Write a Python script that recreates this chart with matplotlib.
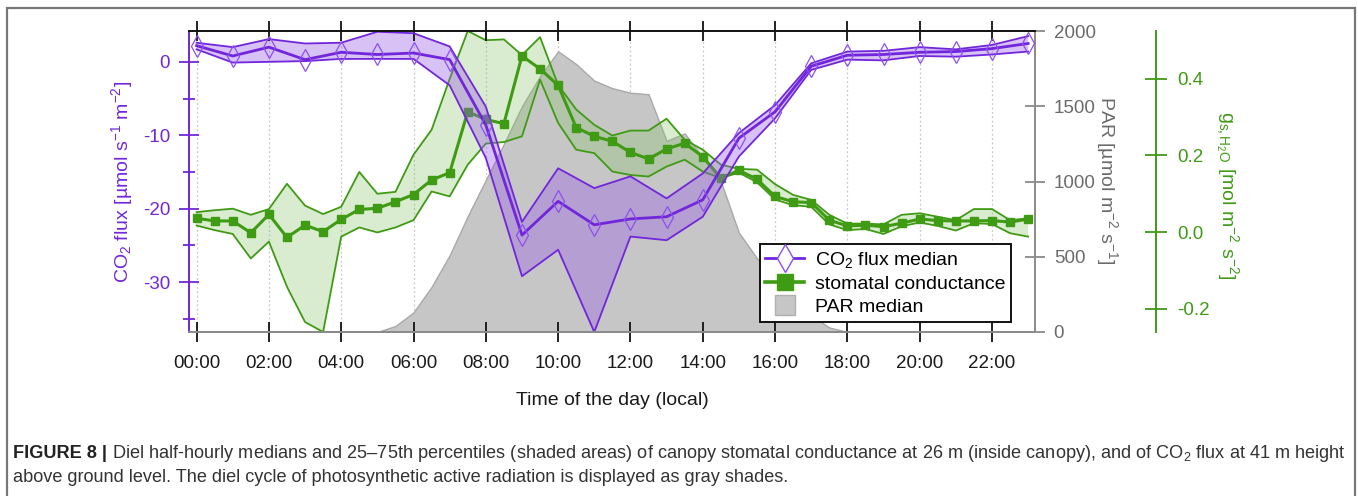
import numpy as np
import matplotlib
matplotlib.use("Agg")
import matplotlib.pyplot as plt
from matplotlib.lines import Line2D
from matplotlib.patches import Rectangle
from matplotlib.ticker import MultipleLocator, FormatStrFormatter

plt.rcParams["font.family"] = ["Liberation Sans", "DejaVu Sans"]
plt.rcParams["mathtext.fontset"] = "custom"
plt.rcParams["mathtext.rm"] = "Liberation Sans"
plt.rcParams["mathtext.it"] = "Liberation Sans:italic"
plt.rcParams["mathtext.bf"] = "Liberation Sans:bold"
plt.rcParams["axes.unicode_minus"] = False

# hourly CO2 flux: median and 25-75th percentiles
co2_hours = list(range(24))
co2_median = [2.2, 0.8, 2.0, 0.3, 1.3, 1.0, 1.2, 0.3, -8.6, -23.6, -19.0, -22.2,
              -21.4, -21.1, -18.8, -10.4, -6.8, -0.6, 0.9, 1.0, 1.3, 1.4, 1.8, 2.5]
co2_upper = [2.6, 2.0, 3.1, 2.5, 2.6, 4.1, 3.9, 2.1, -6.1, -21.8, -14.5, -17.2,
             -15.6, -18.6, -15.2, -9.7, -5.9, -0.2, 1.4, 1.5, 2.0, 1.7, 2.3, 3.5]
co2_lower = [1.7, -0.1, 0.0, 0.1, 0.4, 0.4, 0.4, -3.2, -13.1, -29.2, -25.6, -36.8,
             -23.8, -24.3, -21.1, -12.9, -7.7, -1.1, 0.3, 0.2, 0.8, 0.7, 1.0, 1.4]

# half-hourly stomatal conductance (mol m-2 s-1) and PAR
half_hours = [h / 2 for h in range(47)]
gs_median = [0.036, 0.029, 0.029, -0.002, 0.046, -0.014, 0.018, 0.001, 0.033, 0.059,
             0.062, 0.079, 0.098, 0.136, 0.155, 0.314, 0.294, 0.283, 0.460, 0.426,
             0.383, 0.273, 0.250, 0.237, 0.208, 0.191, 0.217, 0.232, 0.197, 0.141,
             0.161, 0.138, 0.093, 0.079, 0.077, 0.031, 0.016, 0.018, 0.014, 0.023,
             0.034, 0.030, 0.029, 0.029, 0.030, 0.026, 0.034]
gs_upper = [0.052, 0.057, 0.061, 0.045, 0.060, 0.126, 0.069, 0.047, 0.066, 0.157,
            0.100, 0.105, 0.202, 0.267, 0.400, 0.525, 0.501, 0.503, 0.462, 0.509,
            0.384, 0.320, 0.280, 0.252, 0.265, 0.265, 0.296, 0.241, 0.215, 0.176,
            0.165, 0.163, 0.125, 0.097, 0.084, 0.045, 0.022, 0.022, 0.020, 0.045,
            0.049, 0.040, 0.031, 0.060, 0.060, 0.031, 0.036]
gs_lower = [0.017, 0.005, -0.005, -0.069, -0.025, -0.143, -0.235, -0.261, -0.012, 0.012,
            -0.001, 0.012, 0.031, 0.106, 0.093, 0.176, 0.231, 0.235, 0.250, 0.398,
            0.285, 0.215, 0.206, 0.158, 0.149, 0.145, 0.171, 0.189, 0.158, 0.141,
            0.155, 0.130, 0.085, 0.070, 0.066, 0.020, 0.005, 0.008, -0.005, 0.015,
            0.025, 0.016, 0.004, 0.023, 0.021, -0.003, -0.012]
par_median = [0, 0, 0, 0, 0, 0, 0, 0, 0, 0, 0,
              40, 130, 300, 510, 770, 1010, 1250, 1500, 1700, 1865, 1780, 1670,
              1620, 1590, 1580, 1270, 1320, 1160, 1000, 660, 490, 360, 230, 110, 30,
              0, 0, 0, 0, 0, 0, 0, 0, 0, 0, 0]

time_ticks = list(range(0, 24, 2))
time_labels = ["%02d:00" % h for h in time_ticks]

purple = "#7126dc"
purple_fill = "#9a5de4"
green = "#3f9a14"
green_fill = "#8cc46a"
grey_txt = "#6b6b6b"

fig = plt.figure(figsize=(13.58, 4.96), dpi=100)
W, H = 1358.0, 496.0
rect = [189 / W, 1 - 332 / H, 846 / W, 301 / H]

ax = fig.add_axes(rect)          # CO2 flux, drawn on top
ax_par = ax.twinx()              # PAR, bottom layer
ax_gs = ax.twinx()               # stomatal conductance, middle layer
ax_par.set_zorder(0)
ax_gs.set_zorder(1)
ax.set_zorder(2)
ax.patch.set_visible(False)
ax_gs.patch.set_visible(False)
ax_par.patch.set_visible(True)
ax_par.patch.set_facecolor("white")

# PAR shading + hourly dotted guides
ax_par.fill_between(half_hours, 0, par_median, facecolor="#c6c6c6",
                    edgecolor="#a9a9a9", lw=1.0, zorder=2)
ax_par.vlines(time_ticks, 0, 1, transform=ax_par.get_xaxis_transform(),
              colors="#c8c8c8", linestyles=(0, (1.5, 2)), lw=0.9, zorder=1)
ax_par.set_ylim(0, 2000)
ax_par.yaxis.set_major_locator(MultipleLocator(500))

# stomatal conductance band and median
ax_gs.fill_between(half_hours, gs_lower, gs_upper, facecolor=green_fill,
                   alpha=0.32, edgecolor="none")
ax_gs.plot(half_hours, gs_upper, color=green, lw=1.3)
ax_gs.plot(half_hours, gs_lower, color=green, lw=1.3)
ax_gs.plot(half_hours, gs_median, color=green, lw=2.2, marker="s", ms=6,
           mfc=green, mec=green)
ax_gs.set_ylim(-0.261, 0.525)
ax_gs.set_yticks([-0.2, 0.0, 0.2, 0.4])
ax_gs.yaxis.set_major_formatter(FormatStrFormatter("%.1f"))

# CO2 flux band and median
ax.fill_between(co2_hours, co2_lower, co2_upper, facecolor=purple_fill,
                alpha=0.38, edgecolor="none")
ax.plot(co2_hours, co2_upper, color=purple, lw=1.3)
ax.plot(co2_hours, co2_lower, color=purple, lw=1.3)
ax.plot(co2_hours, co2_median, color=purple, lw=2.0, marker="d", ms=11,
        mfc="none", mec="#8c4ff0", mew=0.9)
ax.set_ylim(-36.8, 4.2)
ax.set_xlim(-0.21, 23.19)
ax.yaxis.set_major_locator(MultipleLocator(10))
ax.yaxis.set_minor_locator(MultipleLocator(5))
ax.set_xticks(time_ticks)
ax.set_xticklabels(time_labels)

# spines
ax.spines["right"].set_visible(False)
ax.spines["left"].set_color(purple)
ax.spines["left"].set_linewidth(1.4)
ax.spines["top"].set_color("#111111")
ax.spines["top"].set_linewidth(1.4)
ax.spines["bottom"].set_color("#8a8a8a")
ax.spines["bottom"].set_linewidth(1.4)

for s in ["left", "top", "bottom"]:
    ax_par.spines[s].set_visible(False)
    ax_gs.spines[s].set_visible(False)
ax_par.spines["right"].set_color("#8a8a8a")
ax_par.spines["right"].set_linewidth(1.4)
ax_gs.spines["right"].set_position(("axes", 1.143))
ax_gs.spines["right"].set_color(green)
ax_gs.spines["right"].set_linewidth(1.4)

# ticks
ax.tick_params(axis="x", which="major", top=True, bottom=True, direction="inout",
               length=15, width=1.3, color="#111111", labelsize=13.5,
               labelcolor="#1a1a1a", pad=9)
ax.tick_params(axis="y", which="major", direction="inout", length=15, width=1.3,
               color=purple, labelcolor=purple, labelsize=13.5, pad=6)
ax.tick_params(axis="y", which="minor", direction="inout", length=9, width=1.3,
               color=purple)
ax_par.tick_params(axis="y", direction="inout", length=15, width=1.3,
                   color="#8a8a8a", labelcolor=grey_txt, labelsize=13.5, pad=6)
ax_gs.tick_params(axis="y", direction="inout", length=16, width=1.3,
                  color=green, labelcolor=green, labelsize=13.5, pad=7)

# axis labels
ax.set_ylabel(r"CO$_2$ flux [µmol s$^{-1}$ m$^{-2}$]", color=purple, fontsize=14)
ax.yaxis.set_label_coords(-0.064, 0.5)
ax.set_xlabel("Time of the day (local)", fontsize=14, color="#1a1a1a")
ax.xaxis.set_label_coords(0.5, -0.2)
ax_par.set_ylabel(r"PAR [µmol m$^{-2}$ s$^{-1}$]", color=grey_txt, fontsize=14,
                  rotation=270, va="center")
ax_par.yaxis.set_label_coords(1.085, 0.503)
ax_gs.set_ylabel(r"$\mathrm{g}_{\mathrm{s,H_2O}}$ [mol m$^{-2}$ s$^{-2}$]",
                 color=green, fontsize=14, rotation=270, va="center")
ax_gs.yaxis.set_label_coords(1.228, 0.455)

# legend
handles = [
    Line2D([], [], color=purple, lw=2.0, marker="d", ms=14, mfc="white",
           mec="#8c4ff0", mew=1.0),
    Line2D([], [], color=green, lw=2.6, marker="s", ms=11, mfc=green, mec=green),
    Line2D([], [], ls="none", marker="s", ms=14, mfc="#c6c6c6", mec="#b0b0b0"),
]
labels = [r"CO$_2$ flux median", "stomatal conductance", "PAR median"]
leg = ax.legend(handles, labels, loc="lower right", bbox_to_anchor=(0.972, 0.033),
                fontsize=14, frameon=True, fancybox=False, framealpha=1,
                edgecolor="#111111", borderaxespad=0, handlelength=2.0,
                handletextpad=0.55, labelspacing=0.28, borderpad=0.3, numpoints=1)
leg.get_frame().set_linewidth(1.4)

# page frame and caption
fig.patches.append(Rectangle((7 / W, -0.05), 1348 / W, 1 - 8 / H + 0.05,
                             transform=fig.transFigure, fill=False,
                             edgecolor="#777777", lw=1.6))
cap_size = 13.1
head = fig.text(13 / W, 1 - 454 / H, "FIGURE 8 |", fontsize=cap_size,
                fontweight="bold", color="#222222", va="center")
fig.canvas.draw()
x_body = (head.get_window_extent().x1 + 5) / W
fig.text(x_body, 1 - 454 / H,
         r"Diel half-hourly medians and 25–75th percentiles (shaded areas) of canopy "
         r"stomatal conductance at 26 m (inside canopy), and of CO$_2$ flux at 41 m height",
         fontsize=cap_size, color="#333333", va="center")
fig.text(13 / W, 1 - 478 / H,
         "above ground level. The diel cycle of photosynthetic active radiation "
         "is displayed as gray shades.",
         fontsize=cap_size, color="#333333", va="center")

fig.savefig("out.png", dpi=100)
